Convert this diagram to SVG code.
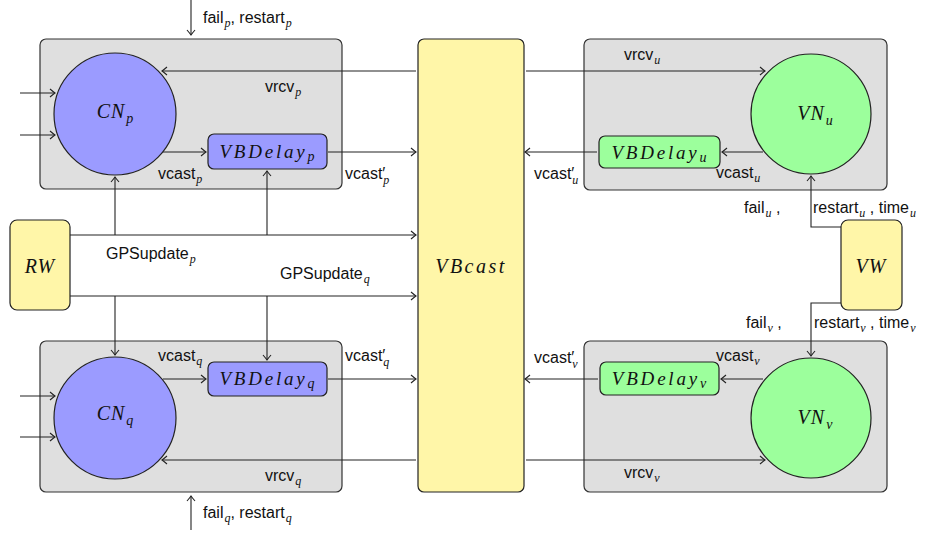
<svg xmlns="http://www.w3.org/2000/svg" width="938" height="536" viewBox="0 0 938 536">
<style>
  .box{fill:#dfdfdf;stroke:#333;stroke-width:1.2}
  .cn{fill:#9b9bff;stroke:#222;stroke-width:1.2}
  .vn{fill:#9cff9c;stroke:#222;stroke-width:1.2}
  .yel{fill:#fff6a8;stroke:#222;stroke-width:1.2}
  .ln{fill:none;stroke:#222;stroke-width:1.1}
  .arr{marker-end:url(#to)}
  .t{font-family:"Liberation Sans","DejaVu Sans",sans-serif;font-size:16px;fill:#111}
  .m{font-family:"Liberation Serif","DejaVu Serif",serif;font-style:italic;font-size:20px;fill:#111}
  .d{font-size:19px;letter-spacing:2.8px}
  .s{font-family:"Liberation Serif","DejaVu Serif",serif;font-style:italic;font-size:12px}
  .ms{font-size:14px;letter-spacing:0}
</style>
<defs>
  <marker id="to" markerUnits="userSpaceOnUse" markerWidth="12" markerHeight="12" viewBox="-7 -6 8 12" refX="0" refY="0" orient="auto">
    <path d="M-5,-4 Q-1.5,-1 0,0 Q-1.5,1 -5,4" fill="none" stroke="#222" stroke-width="1.1"/>
  </marker>
</defs>

<!-- containers -->
<g id="box-p"><rect class="box" x="40" y="39" width="302" height="150" rx="6"/></g>
<g id="box-q"><rect class="box" x="40" y="341" width="302" height="151" rx="6"/></g>
<g id="box-u"><rect class="box" x="584" y="39" width="303" height="151" rx="6"/></g>
<g id="box-v"><rect class="box" x="584" y="341" width="303" height="151" rx="6"/></g>

<!-- broadcast medium -->
<g id="vbcast">
  <rect class="yel" x="418" y="39" width="106" height="453" rx="6"/>
  <text class="m" x="471" y="273" text-anchor="middle" font-size="19" letter-spacing="2.5">VBcast</text>
</g>

<!-- walkers -->
<g id="rw">
  <rect class="yel" x="10" y="220" width="60" height="90" rx="7"/>
  <text class="m" x="40" y="273" text-anchor="middle" letter-spacing="1">RW</text>
</g>
<g id="vw">
  <rect class="yel" x="841" y="220" width="61" height="90" rx="7"/>
  <text class="m" x="871" y="273" text-anchor="middle" letter-spacing="1">VW</text>
</g>

<!-- client nodes -->
<g id="cn-p">
  <circle class="cn" cx="115" cy="114" r="61"/>
  <text class="m" x="115" y="118" text-anchor="middle" letter-spacing="1">CN<tspan class="ms" dx="1" dy="5">p</tspan></text>
</g>
<g id="cn-q">
  <circle class="cn" cx="115" cy="418" r="61"/>
  <text class="m" x="115" y="420" text-anchor="middle" letter-spacing="1">CN<tspan class="ms" dx="1" dy="5">q</tspan></text>
</g>

<!-- virtual nodes -->
<g id="vn-u">
  <circle class="vn" cx="811" cy="114" r="60"/>
  <text class="m" x="815" y="120" text-anchor="middle" letter-spacing="1">VN<tspan class="ms" dx="1" dy="5">u</tspan></text>
</g>
<g id="vn-v">
  <circle class="vn" cx="811" cy="418" r="60"/>
  <text class="m" x="815" y="424" text-anchor="middle" letter-spacing="1">VN<tspan class="ms" dx="1" dy="5">v</tspan></text>
</g>

<!-- delay buffers -->
<g id="delay-p">
  <rect class="cn" x="208" y="134" width="119" height="35" rx="6"/>
  <text class="m d" x="267" y="158" text-anchor="middle">VBDelay<tspan class="ms" dy="3">p</tspan></text>
</g>
<g id="delay-q">
  <rect class="cn" x="208" y="362" width="119" height="34" rx="6"/>
  <text class="m d" x="267" y="385" text-anchor="middle">VBDelay<tspan class="ms" dy="3">q</tspan></text>
</g>
<g id="delay-u">
  <rect class="vn" x="599" y="136" width="121" height="32" rx="6"/>
  <text class="m d" x="659" y="159" text-anchor="middle">VBDelay<tspan class="ms" dy="3">u</tspan></text>
</g>
<g id="delay-v">
  <rect class="vn" x="600" y="362" width="119" height="33" rx="6"/>
  <text class="m d" x="659" y="385" text-anchor="middle">VBDelay<tspan class="ms" dy="3">v</tspan></text>
</g>

<!-- connectors -->
<g id="connectors">
  <!-- external inputs to client nodes -->
  <line class="ln arr" x1="20" y1="93" x2="55" y2="93"/>
  <line class="ln arr" x1="20" y1="135" x2="55" y2="135"/>
  <line class="ln arr" x1="20" y1="396" x2="55" y2="396"/>
  <line class="ln arr" x1="20" y1="437" x2="55" y2="437"/>
  <!-- failure / restart -->
  <line class="ln arr" x1="191" y1="0" x2="191" y2="35"/>
  <line class="ln arr" x1="191" y1="530" x2="191" y2="496"/>
  <!-- receive -->
  <line class="ln arr" x1="416" y1="71" x2="162" y2="71"/>
  <line class="ln arr" x1="416" y1="460" x2="162" y2="460"/>
  <line class="ln arr" x1="526" y1="71" x2="765" y2="71"/>
  <line class="ln arr" x1="526" y1="460" x2="765" y2="460"/>
  <!-- cast -->
  <line class="ln arr" x1="163" y1="152" x2="206" y2="152"/>
  <line class="ln arr" x1="328" y1="152" x2="416" y2="152"/>
  <line class="ln arr" x1="163" y1="379" x2="206" y2="379"/>
  <line class="ln arr" x1="328" y1="379" x2="416" y2="379"/>
  <line class="ln arr" x1="763" y1="152" x2="722" y2="152"/>
  <line class="ln arr" x1="597" y1="152" x2="525" y2="152"/>
  <line class="ln arr" x1="763" y1="379" x2="721" y2="379"/>
  <line class="ln arr" x1="598" y1="379" x2="525" y2="379"/>
  <!-- GPS updates -->
  <line class="ln arr" x1="70" y1="235" x2="416" y2="235"/>
  <line class="ln arr" x1="70" y1="296" x2="416" y2="296"/>
  <line class="ln arr" x1="115" y1="235" x2="115" y2="177"/>
  <line class="ln arr" x1="267" y1="235" x2="267" y2="171"/>
  <line class="ln arr" x1="115" y1="296" x2="115" y2="355"/>
  <line class="ln arr" x1="267" y1="296" x2="267" y2="360"/>
  <!-- virtual walker -->
  <polyline class="ln arr" points="841,227 811,227 811,176"/>
  <polyline class="ln arr" points="841,303 811,303 811,356"/>
</g>

<!-- labels -->
<g id="labels" class="t">
  <text x="203" y="23">fail<tspan class="s" dx="1" dy="4">p</tspan><tspan dy="-4">, restart</tspan><tspan class="s" dx="1" dy="4">p</tspan></text>
  <text x="203" y="518">fail<tspan class="s" dx="1" dy="4">q</tspan><tspan dy="-4">, restart</tspan><tspan class="s" dx="1" dy="4">q</tspan></text>
  <text x="265" y="92">vrcv<tspan class="s" dx="1" dy="4">p</tspan></text>
  <text x="265" y="481">vrcv<tspan class="s" dx="1" dy="4">q</tspan></text>
  <text x="624" y="60">vrcv<tspan class="s" dx="1" dy="4">u</tspan></text>
  <text x="624" y="478">vrcv<tspan class="s" dx="1" dy="4">v</tspan></text>
  <text x="158" y="179">vcast<tspan class="s" dx="1" dy="4">p</tspan></text>
  <text x="158" y="361">vcast<tspan class="s" dx="1" dy="4">q</tspan></text>
  <text x="716" y="178">vcast<tspan class="s" dx="1" dy="4">u</tspan></text>
  <text x="716" y="361">vcast<tspan class="s" dx="1" dy="4">v</tspan></text>
  <text x="345" y="179">vcast′<tspan class="s" dx="-2" dy="5">p</tspan></text>
  <text x="345" y="361">vcast′<tspan class="s" dx="-2" dy="5">q</tspan></text>
  <text x="534" y="179">vcast′<tspan class="s" dx="-2" dy="5">u</tspan></text>
  <text x="534" y="363">vcast′<tspan class="s" dx="-2" dy="5">v</tspan></text>
  <text x="106" y="259">GPSupdate<tspan class="s" dx="1" dy="4">p</tspan></text>
  <text x="280" y="279">GPSupdate<tspan class="s" dx="1" dy="4">q</tspan></text>
  <text x="744" y="213">fail<tspan class="s" dx="1" dy="4">u</tspan><tspan dy="-4"> ,</tspan></text>
  <text x="813" y="213">restart<tspan class="s" dx="1" dy="4">u</tspan><tspan dy="-4"> , time</tspan><tspan class="s" dx="1" dy="4">u</tspan></text>
  <text x="746" y="328">fail<tspan class="s" dx="1" dy="4">v</tspan><tspan dy="-4"> ,</tspan></text>
  <text x="814" y="328">restart<tspan class="s" dx="1" dy="4">v</tspan><tspan dy="-4"> , time</tspan><tspan class="s" dx="1" dy="4">v</tspan></text>
</g>
</svg>
